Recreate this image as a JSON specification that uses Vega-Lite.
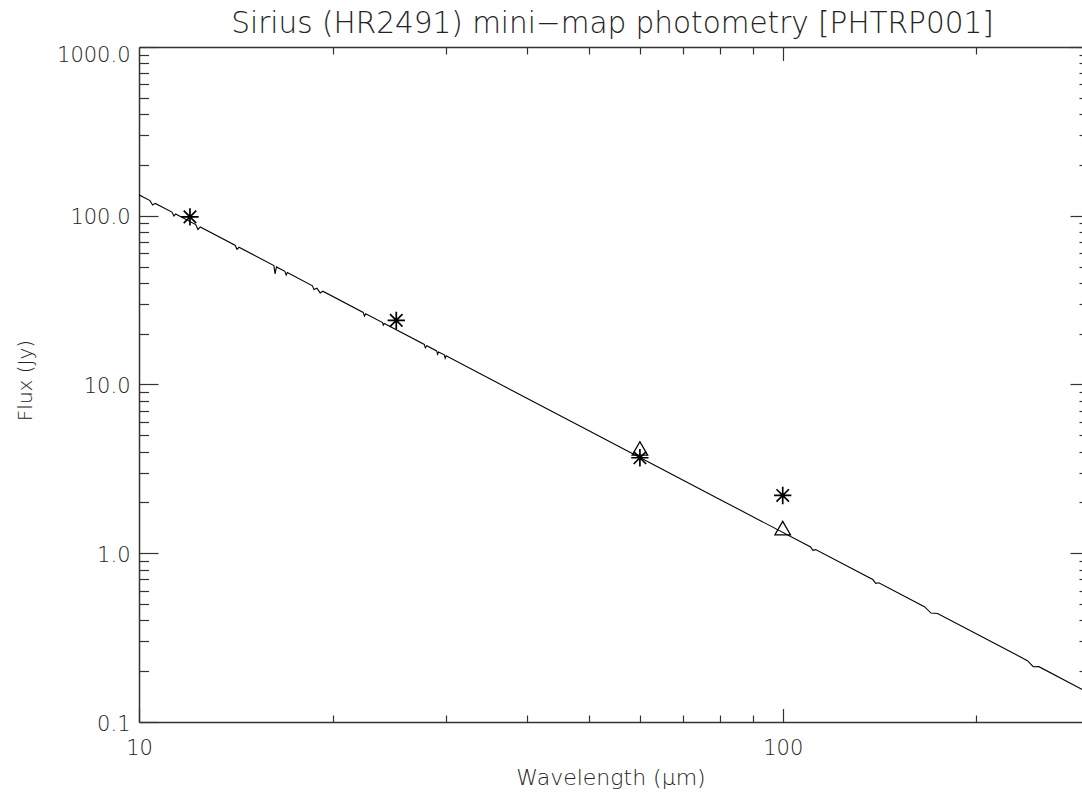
{
  "$schema": "https://vega.github.io/schema/vega-lite/v6.json",
  "width": 943,
  "height": 675,
  "autosize": {"type": "none"},
  "padding": {"left": 139, "top": 47, "right": 0, "bottom": 74},
  "background": "white",
  "title": {
    "text": "Sirius (HR2491) mini−map photometry [PHTRP001]",
    "font": "DejaVu Sans",
    "fontSize": 29.5,
    "fontWeight": 200,
    "color": "#222222",
    "anchor": "middle",
    "baseline": "alphabetic",
    "offset": 12,
    "dy": 30,
    "dx": 2
  },
  "config": {
    "view": {"stroke": null},
    "axis": {
      "grid": false,
      "labelFont": "DejaVu Sans",
      "titleFont": "DejaVu Sans",
      "labelFontWeight": 200,
      "titleFontWeight": 200,
      "labelFontSize": 21,
      "titleFontSize": 21,
      "labelColor": "#222222",
      "titleColor": "#222222",
      "domainColor": "#333333",
      "tickColor": "#333333",
      "domainWidth": 1.5,
      "tickWidth": 1.2,
      "labelFlush": false,
      "labelOverlap": false,
      "labelBound": false
    }
  },
  "datasets": {
    "spectrum": [
      {"lam": 10.0, "flux": 133.0},
      {"lam": 10.4, "flux": 122.96},
      {"lam": 10.5, "flux": 115.8},
      {"lam": 10.6, "flux": 118.37},
      {"lam": 11.25, "flux": 105.09},
      {"lam": 11.33, "flux": 99.5},
      {"lam": 11.4, "flux": 102.34},
      {"lam": 12.25, "flux": 88.63},
      {"lam": 12.35, "flux": 82.8},
      {"lam": 12.45, "flux": 85.8},
      {"lam": 14.1, "flux": 66.9},
      {"lam": 14.2, "flux": 63.3},
      {"lam": 14.3, "flux": 65.04},
      {"lam": 16.2, "flux": 50.68},
      {"lam": 16.27, "flux": 45.2},
      {"lam": 16.35, "flux": 49.75},
      {"lam": 16.85, "flux": 46.84},
      {"lam": 16.93, "flux": 44.5},
      {"lam": 17.0, "flux": 46.02},
      {"lam": 18.6, "flux": 38.44},
      {"lam": 18.7, "flux": 36.5},
      {"lam": 18.9, "flux": 37.23},
      {"lam": 19.12, "flux": 34.9},
      {"lam": 19.3, "flux": 35.71},
      {"lam": 22.3, "flux": 26.74},
      {"lam": 22.4, "flux": 25.4},
      {"lam": 22.5, "flux": 26.27},
      {"lam": 23.9, "flux": 23.28},
      {"lam": 23.96, "flux": 22.5},
      {"lam": 24.05, "flux": 23.0},
      {"lam": 27.75, "flux": 17.27},
      {"lam": 27.85, "flux": 16.5},
      {"lam": 28.0, "flux": 16.96},
      {"lam": 29.0, "flux": 15.81},
      {"lam": 29.1, "flux": 15.1},
      {"lam": 29.2, "flux": 15.6},
      {"lam": 29.8, "flux": 14.98},
      {"lam": 29.9, "flux": 14.3},
      {"lam": 30.0, "flux": 14.78},
      {"lam": 50.0, "flux": 5.32},
      {"lam": 80.0, "flux": 2.078},
      {"lam": 110.5, "flux": 1.089},
      {"lam": 111.4, "flux": 1.04},
      {"lam": 112.5, "flux": 1.051},
      {"lam": 138.0, "flux": 0.6984},
      {"lam": 139.5, "flux": 0.663},
      {"lam": 141.0, "flux": 0.669},
      {"lam": 166.0, "flux": 0.4826},
      {"lam": 170.0, "flux": 0.442},
      {"lam": 174.0, "flux": 0.4393},
      {"lam": 205.0, "flux": 0.3165},
      {"lam": 240.0, "flux": 0.2309},
      {"lam": 245.0, "flux": 0.2127},
      {"lam": 250.0, "flux": 0.2128},
      {"lam": 300.0, "flux": 0.1478}
    ],
    "stars": [
      {"lam": 12.0, "flux": 98.5},
      {"lam": 25.1, "flux": 24.0},
      {"lam": 60.0, "flux": 3.68},
      {"lam": 100.0, "flux": 2.2}
    ],
    "triangles": [
      {"lam": 60.0, "flux": 4.18},
      {"lam": 100.0, "flux": 1.41}
    ]
  },
  "layer": [
    {
      "data": {"name": "spectrum"},
      "mark": {"type": "line", "color": "black", "strokeWidth": 1.1, "clip": true},
      "encoding": {
        "x": {
          "field": "lam",
          "type": "quantitative",
          "scale": {"type": "log", "domain": [10, 291.7], "nice": false},
          "axis": {
            "orient": "bottom",
            "title": "Wavelength (μm)",
            "titleFontSize": 22,
            "titlePadding": 2,
            "values": [10, 20, 30, 40, 50, 60, 70, 80, 90, 100, 200],
            "labelExpr": "datum.value == 10 ? '10' : datum.value == 100 ? '100' : ''",
            "tickSize": {"condition": {"test": "datum.value == 10 || datum.value == 100", "value": -13.5}, "value": -7},
            "labelPadding": 29
          }
        },
        "y": {
          "field": "flux",
          "type": "quantitative",
          "scale": {"type": "log", "domain": [0.1, 1000], "nice": false},
          "axis": {
            "orient": "left",
            "title": "Flux (Jy)",
            "titleFontSize": 20,
            "titleX": -114,
            "titleY": 333,
            "titleAngle": -90,
            "titleAlign": "center",
            "titleBaseline": "middle",
            "values": [0.1, 0.2, 0.3, 0.4, 0.5, 0.6, 0.7, 0.8, 0.9, 1, 2, 3, 4, 5, 6, 7, 8, 9, 10, 20, 30, 40, 50, 60, 70, 80, 90, 100, 200, 300, 400, 500, 600, 700, 800, 900, 1000],
            "labelExpr": "datum.value == 0.1 ? '0.1' : datum.value == 1 ? '1.0' : datum.value == 10 ? '10.0' : datum.value == 100 ? '100.0' : datum.value == 1000 ? '1000.0' : ''",
            "tickSize": {"condition": {"test": "datum.value == 0.1 || datum.value == 1 || datum.value == 10 || datum.value == 100 || datum.value == 1000", "value": -19}, "value": -9.5},
            "labelOffset": {"condition": {"test": "datum.value == 1000", "value": 8}, "value": 2},
            "labelPadding": 28
          }
        }
      }
    },
    {
      "data": {"name": "stars"},
      "mark": {
        "type": "point",
        "shape": "M-1,0L1,0M0,-1L0,1M-0.72,-0.72L0.72,0.72M-0.72,0.72L0.72,-0.72",
        "filled": false,
        "stroke": "black",
        "strokeWidth": 1.7,
        "size": 300,
        "opacity": 1
      },
      "encoding": {
        "x": {
          "field": "lam",
          "type": "quantitative",
          "axis": {
            "orient": "top",
            "title": null,
            "labels": false,
            "values": [20, 30, 40, 50, 60, 70, 80, 90, 100, 200],
            "tickSize": {"condition": {"test": "datum.value == 100", "value": -13.5}, "value": -7}
          }
        },
        "y": {
          "field": "flux",
          "type": "quantitative",
          "axis": {
            "orient": "right",
            "title": null,
            "labels": false,
            "domain": false,
            "values": [0.2, 0.3, 0.4, 0.5, 0.6, 0.7, 0.8, 0.9, 1, 2, 3, 4, 5, 6, 7, 8, 9, 10, 20, 30, 40, 50, 60, 70, 80, 90, 100, 200, 300, 400, 500, 600, 700, 800, 900, 1000],
            "tickSize": {"condition": {"test": "datum.value == 1 || datum.value == 10 || datum.value == 100 || datum.value == 1000", "value": -12}, "value": -3}
          }
        }
      }
    },
    {
      "data": {"name": "triangles"},
      "mark": {
        "type": "point",
        "shape": "triangle-up",
        "filled": false,
        "stroke": "black",
        "strokeWidth": 1.3,
        "size": 240,
        "opacity": 1
      },
      "encoding": {
        "x": {"field": "lam", "type": "quantitative", "axis": null},
        "y": {"field": "flux", "type": "quantitative", "axis": null}
      }
    }
  ],
  "resolve": {"axis": {"x": "independent", "y": "independent"}}
}
